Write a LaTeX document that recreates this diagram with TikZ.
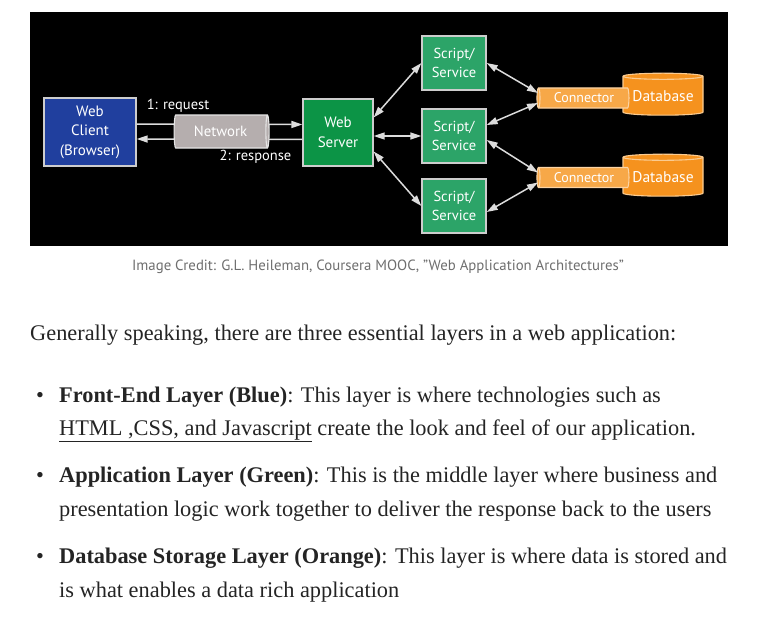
\documentclass[tikz,border=0pt]{standalone}
\usepackage{fontspec}
\setmainfont{Liberation Serif}
\setsansfont{PT Sans}
\usepackage{tikz}
\usetikzlibrary{arrows.meta,shapes.geometric}
\definecolor{clientblue}{RGB}{32,63,158}
\definecolor{servergreen}{RGB}{12,148,70}
\definecolor{scriptgreen}{RGB}{44,164,104}
\definecolor{netgray}{RGB}{181,174,174}
\definecolor{connorange}{RGB}{247,168,72}
\definecolor{dborange}{RGB}{245,146,30}
\definecolor{rimgray}{RGB}{205,205,205}
\definecolor{linkgray}{RGB}{220,220,220}
\definecolor{inkgray}{RGB}{36,36,36}
\definecolor{creditgray}{RGB}{110,110,110}
\tikzset{
  box/.style={draw=rimgray,line width=1.3pt,inner sep=0pt,align=center,text=white,
    font=\sffamily\fontsize{15}{19.5}\selectfont},
  scriptbox/.style={box,fill=scriptgreen,minimum width=64pt,minimum height=54pt,
    font=\sffamily\fontsize{14.5}{19}\selectfont},
  pipe/.style={cylinder,aspect=0.3,inner sep=0pt,line width=1.1pt,text=white,
    font=\sffamily\fontsize{14.8}{17}\selectfont},
  store/.style={cylinder,shape border rotate=90,aspect=0.1,inner sep=0pt,draw=connorange!60!white,
    line width=1.1pt,fill=dborange,text=white,minimum width=80pt,minimum height=42pt,
    font=\sffamily\fontsize{15.5}{18}\selectfont},
  link/.style={draw=linkgray,line width=1.5pt,>={Triangle[length=11pt,width=7pt]}},
  tag/.style={text=white,font=\sffamily\fontsize{14.5}{17}\selectfont},
  body/.style={anchor=base west,inner sep=0pt,text=inkgray,font=\fontsize{22.35}{26}\selectfont}
}
\begin{document}
\begin{tikzpicture}[x=1pt,y=-1pt]
\useasboundingbox(0,0)rectangle(783,623);
\fill[black](30,12)rectangle(728,246); %dark panel

\node[box,fill=clientblue,minimum width=92pt,minimum height=68pt] (client) at (90,132){Web\\Client\\(Browser)};
\node[box,fill=servergreen,minimum width=70pt,minimum height=67pt] (server) at (338,132.5){Web\\Server};
\node[scriptbox] (s1) at (454,63){Script/\\Service};
\node[scriptbox] (s2) at (454,136){Script/\\Service};
\node[scriptbox] (s3) at (454,206){Script/\\Service};

\node[store] (db1) at (663,96){Database};
\node[store] (db2) at (663,177){Database};
\node[pipe,shape border rotate=180,draw=connorange!50!white,fill=connorange,minimum width=20pt,minimum height=92pt,
  font=\sffamily\fontsize{14}{16}\selectfont] (conn1) at (584,98){Connector};
\node[pipe,shape border rotate=180,draw=connorange!50!white,fill=connorange,minimum width=20pt,minimum height=92pt,
  font=\sffamily\fontsize{14}{16}\selectfont] (conn2) at (584,177.5){Connector};

%request and response
\draw[link,->]([yshift=8pt]client.east)--([yshift=8pt]server.west);
\draw[link,->]([yshift=-7pt]server.west)--([yshift=-7pt]client.east);
\node[pipe,draw=white!90!black,fill=netgray,minimum width=33pt,minimum height=95pt] (net) at (220.5,131.5){Network};

%server to scripts
\draw[link,<->]([yshift=15pt]server.east)--(s1.west);
\draw[link,<->](server.east|-s2.west)--(s2.west);
\draw[link,<->]([yshift=-19pt]server.east)--(s3.west);

%scripts to connectors
\draw[link,<->](s1.east)--([xshift=-46pt,yshift=5pt]conn1.center);
\draw[link,<->]([yshift=11pt]s2.east)--([xshift=-46pt,yshift=-5pt]conn1.center);
\draw[link,<->]([yshift=-4pt]s2.east)--([xshift=-46pt,yshift=5pt]conn2.center);
\draw[link,<->]([yshift=-6pt]s3.east)--([xshift=-46pt,yshift=-5pt]conn2.center);

%labels
\node[tag] (req) at (178,106){1: request};
\node[tag] (resp) at (255.5,157){2: response};
\node[anchor=base,inner sep=0pt,text=creditgray,font=\sffamily\fontsize{14.8}{17}\selectfont] (credit) at (378,270){Image Credit: G.L. Heileman, Coursera MOOC, ”Web Application Architectures”};

%text
\node[body] (intro) at (30,340){Generally speaking, there are three essential layers in a web application:};
\node[body,anchor=base] (dot1) at (40,402){•};
\node[body] (front) at (59,402){\textbf{Front-End Layer (Blue)}: This layer is where technologies such as};
\node[body] (front2) at (59,435){\underline{HTML ,CSS, and Javascript} create the look and feel of our application.};
\node[body,anchor=base] (dot2) at (40,482){•};
\node[body] (app) at (59,482){\textbf{Application Layer (Green)}: This is the middle layer where business and};
\node[body] (app2) at (59,516){presentation logic work together to deliver the response back to the users};
\node[body,anchor=base] (dot3) at (40,563){•};
\node[body] (data) at (59,563){\textbf{Database Storage Layer (Orange)}: This layer is where data is stored and};
\node[body] (data2) at (59,597){is what enables a data rich application};
\end{tikzpicture}
\end{document}
